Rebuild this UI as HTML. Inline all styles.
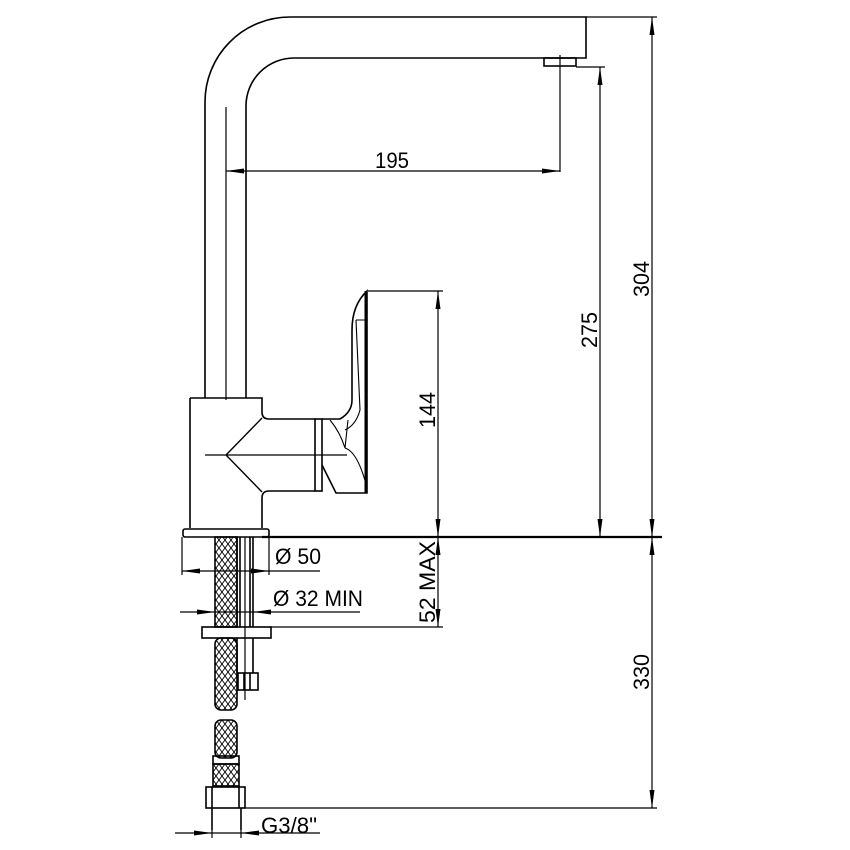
<!DOCTYPE html>
<html><head><meta charset="utf-8"><style>
html,body{margin:0;padding:0;background:#fff}
svg{display:block}
text{font-family:"Liberation Sans",sans-serif;font-size:22px;fill:#000}
</style></head><body>
<svg width="850" height="850" viewBox="0 0 850 850" xmlns="http://www.w3.org/2000/svg">
<defs>
<pattern id="mesh" width="6" height="8" patternUnits="userSpaceOnUse">
<path d="M0 0 L6 8 M6 0 L0 8" stroke="#000" stroke-width="0.9"/>
</pattern>
</defs>
<g fill="none" stroke="#000" stroke-width="1.6">
<path d="M205 398 V102 A85 85 0 0 1 290 17 H586 V58 H294 A48 48 0 0 0 246 106 V398"/>
<rect x="544" y="58" width="32" height="8"/>
<path d="M190 398 H262 V412 Q262 419 269 419 H315 M262 528 V498 Q262 491 269 491 H315 M190 398 V528"/>
<path d="M262 418 L226 455 L262 492" stroke-width="1.4"/>
<rect x="315" y="419" width="7" height="72"/>
<path d="M322 419 H340 Q352 412 352 400 V330 Q352 305 367 291 V493 H336 L322 465"/>
<path d="M330 420 Q340 432 345 448 L348 420 M345 448 Q358 452 367 488" stroke-width="1.1"/>
<path d="M356 320 L360 410 Q356 425 345 430 M356 320 H367" stroke-width="1.1"/>
<line x1="366" y1="291" x2="366" y2="493" stroke-width="3"/>
<rect x="183" y="529" width="86" height="8" rx="2"/>
<rect x="215" y="537" width="22" height="90" fill="url(#mesh)"/>
<path d="M237 537 V627 M240 537 V627 M250 537 V627 M253 537 V627"/>
<rect x="202" y="627" width="69" height="11"/>
<rect x="215" y="638" width="22" height="72" rx="6" fill="url(#mesh)"/>
<path d="M237 638 V673 M253 638 V673"/>
<rect x="238" y="673" width="20" height="17"/>
<path d="M244 673 V690 M250 673 V690"/>
<rect x="215" y="720" width="22" height="38" rx="6" fill="url(#mesh)"/>
<rect x="213" y="756" width="26" height="8"/>
<rect x="213" y="764" width="26" height="22" fill="url(#mesh)"/>
<rect x="206" y="787" width="39" height="21"/>
<path d="M212 787 V808 M239 787 V808"/>
<path d="M212 808 V830 M241 808 V830"/>
</g>
<g fill="none" stroke="#000" stroke-width="1.2">
<line x1="226" y1="107" x2="226" y2="400"/>
<line x1="205" y1="455" x2="347" y2="455"/>
<line x1="560" y1="55" x2="560" y2="172"/>
<line x1="226" y1="171" x2="560" y2="171"/>
<line x1="576" y1="67" x2="605" y2="67"/>
<line x1="600" y1="67" x2="600" y2="537"/>
<line x1="586" y1="17" x2="657" y2="17"/>
<line x1="652" y1="17" x2="652" y2="808"/>
<line x1="368" y1="291" x2="443" y2="291"/>
<line x1="438" y1="291" x2="438" y2="627"/>
<line x1="269" y1="627" x2="443" y2="627"/>
<line x1="244" y1="808" x2="657" y2="808"/>
<line x1="182" y1="537" x2="182" y2="575"/>
<line x1="269" y1="537" x2="269" y2="575"/>
<line x1="182" y1="571" x2="320" y2="571"/>
<line x1="180" y1="612" x2="360" y2="612"/>
<line x1="175" y1="833" x2="320" y2="833"/>
<line x1="212" y1="830" x2="212" y2="838"/>
<line x1="241" y1="830" x2="241" y2="838"/>
<line x1="245" y1="537" x2="245" y2="700"/>
</g>
<line x1="262" y1="537" x2="662" y2="537" stroke="#000" stroke-width="2.2"/>
<g fill="#000">
<path d="M226 171 l18 -2.5 v5z"/><path d="M560 171 l-18 -2.5 v5z"/>
<path d="M600 67 l-2.5 18 h5z"/><path d="M600 537 l-2.5 -18 h5z"/>
<path d="M652 17 l-2.5 18 h5z"/><path d="M652 537 l-2.5 -18 h5z"/>
<path d="M652 537 l-2.5 18 h5z"/><path d="M652 808 l-2.5 -18 h5z"/>
<path d="M438 291 l-2.5 18 h5z"/><path d="M438 537 l-2.5 -18 h5z"/>
<path d="M438 537 l-2.5 18 h5z"/><path d="M438 627 l-2.5 -18 h5z"/>
<path d="M182 571 l18 -2.5 v5z"/><path d="M269 571 l-18 -2.5 v5z"/>
<path d="M215 612 l-18 -2.5 v5z"/><path d="M253 612 l18 -2.5 v5z"/>
<path d="M212 833 l-18 -2.5 v5z"/><path d="M241 833 l18 -2.5 v5z"/>
</g>
<text x="392" y="168" text-anchor="middle" textLength="34" lengthAdjust="spacingAndGlyphs">195</text>
<text transform="translate(597,330) rotate(-90)" text-anchor="middle" textLength="36" lengthAdjust="spacingAndGlyphs">275</text>
<text transform="translate(649,279) rotate(-90)" text-anchor="middle" textLength="36" lengthAdjust="spacingAndGlyphs">304</text>
<text transform="translate(435,410) rotate(-90)" text-anchor="middle" textLength="36" lengthAdjust="spacingAndGlyphs">144</text>
<text transform="translate(435,582) rotate(-90)" text-anchor="middle" textLength="82" lengthAdjust="spacingAndGlyphs">52 MAX</text>
<text transform="translate(649,672) rotate(-90)" text-anchor="middle" textLength="36" lengthAdjust="spacingAndGlyphs">330</text>
<text x="275" y="564" textLength="46" lengthAdjust="spacingAndGlyphs">Ø 50</text>
<text x="273" y="606" textLength="90" lengthAdjust="spacingAndGlyphs">Ø 32  MIN</text>
<text x="261" y="833" textLength="56" lengthAdjust="spacingAndGlyphs">G3/8"</text>
</svg>
</body></html>
